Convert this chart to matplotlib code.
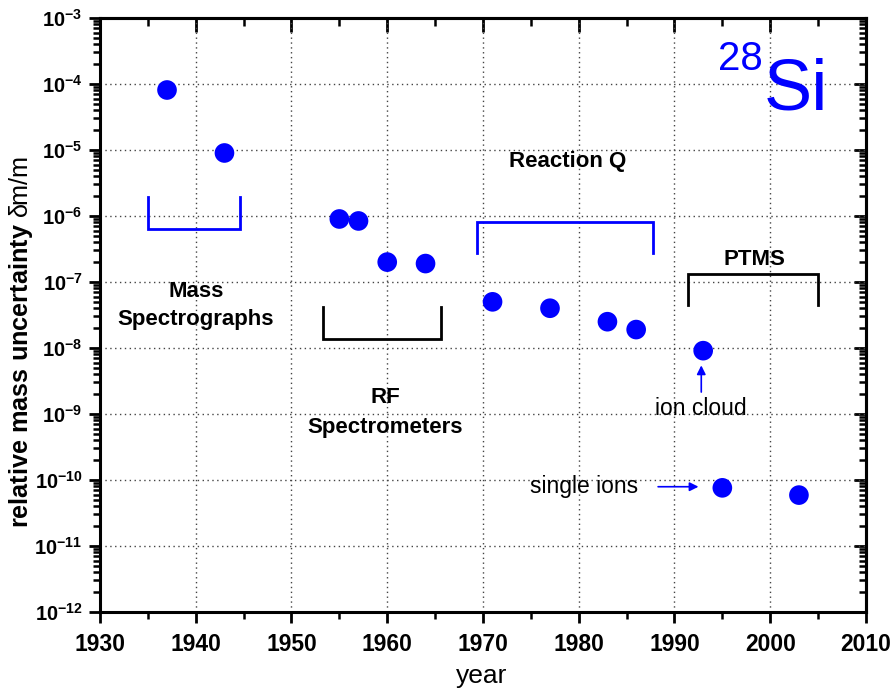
import numpy as np
import matplotlib
matplotlib.use("Agg")
import matplotlib.pyplot as plt

plt.rcParams["font.family"] = ["Liberation Sans", "DejaVu Sans"]
plt.rcParams["mathtext.fontset"] = "custom"
plt.rcParams["mathtext.rm"] = "Liberation Sans"
plt.rcParams["mathtext.bf"] = "Liberation Sans:bold"
plt.rcParams["mathtext.it"] = "Liberation Sans:italic"

# Measurements (year, relative mass uncertainty)
years = [1937, 1943, 1955, 1957, 1960, 1964, 1971, 1977, 1983, 1986, 1993, 1995, 2003]
uncert = [8.1e-5, 9.0e-6, 9.0e-7, 8.4e-7, 2.0e-7, 1.9e-7, 5.0e-8, 4.0e-8, 2.5e-8, 1.9e-8, 9.1e-9, 7.6e-11, 5.9e-11]

# Group brackets: (x_left, x_right, y_base, y_tip, colour)
mass_br = (1935.0, 1944.6, 6.4e-7, 1.95e-6, "blue")
rf_br = (1953.3, 1965.6, 1.37e-8, 4.2e-8, "black")
reac_br = (1969.4, 1987.8, 8.0e-7, 2.75e-7, "blue")
ptms_br = (1991.4, 2005.0, 1.31e-7, 4.5e-8, "black")

fig = plt.figure(figsize=(8.92, 6.88), dpi=100)
ax = fig.add_axes([0.1121, 0.1105, 0.8587, 0.8634])
ax.set_yscale("log")
ax.set_xlim(1930, 2010)
ax.set_ylim(1e-12, 1e-3)

ax.grid(True, which="major", color="#444444", ls=(0, (1, 2.5)), lw=1.0)
ax.set_axisbelow(True)

ax.scatter(years, uncert, s=200, color="blue", zorder=3, edgecolors="none")

for x0, x1, yb, yt, c in [mass_br, rf_br, reac_br, ptms_br]:
    ax.plot([x0, x0, x1, x1], [yt, yb, yb, yt], color=c, lw=2.0, solid_joinstyle="miter")

bold = dict(fontsize=16, fontweight="bold", ha="center", va="center")
ax.text(1940.0, 4.4e-8, "Mass\nSpectrographs", linespacing=1.45, **bold)
ax.text(1959.8, 1.05e-9, "RF\nSpectrometers", linespacing=1.55, **bold)
ax.text(1978.8, 6.8e-6, "Reaction Q", **bold)
ax.text(1998.4, 2.2e-7, "PTMS", **bold)

ax.text(1992.7, 1.2e-9, "ion cloud", fontsize=16.5, ha="center", va="center")
ax.text(1980.6, 8.0e-11, "single ions", fontsize=16.5, ha="center", va="center")
ax.annotate("", xy=(1992.8, 6.0e-9), xytext=(1992.8, 1.95e-9),
            arrowprops=dict(arrowstyle="-|>", color="blue", lw=1.2, mutation_scale=13))
ax.annotate("", xy=(1992.8, 7.9e-11), xytext=(1988.0, 7.9e-11),
            arrowprops=dict(arrowstyle="-|>", color="blue", lw=1.2, mutation_scale=13))

ax.text(1999.3, 4.1e-5, "Si", fontsize=52, color="blue", ha="left", va="baseline")
ax.text(1999.2, 4.6e-4, "28", fontsize=29, color="blue", ha="right", va="top")

ax.set_xticks(np.arange(1930, 2011, 10))
ax.set_xticks(np.arange(1935, 2010, 10), minor=True)
ax.set_xticklabels([str(v) for v in range(1930, 2011, 10)], fontweight="bold", fontsize=16.5)
yt = [10.0 ** e for e in range(-12, -2)]
ax.set_yticks(yt)
ax.set_yticklabels([r"$\mathbf{10^{%d}}$" % e for e in range(-12, -2)], fontsize=14.5)

for sp in ax.spines.values():
    sp.set_linewidth(2.2)
ax.tick_params(which="major", direction="out", length=8, width=2)
ax.tick_params(which="minor", direction="out", length=5, width=1.8)
ax.tick_params(axis="x", pad=7)
ax.tick_params(axis="y", pad=4.5)

sx = ax.secondary_xaxis("top")
sx.set_xticks(np.arange(1930, 2011, 10))
sx.set_xticks(np.arange(1935, 2010, 10), minor=True)
sx.tick_params(which="major", direction="in", length=10, width=2, labeltop=False)
sx.tick_params(which="minor", direction="in", length=6, width=1.8)
sx.set_xticklabels([])
sy = ax.secondary_yaxis("right")
sy.set_yticks(yt)
sy.tick_params(which="major", direction="in", length=9, width=2, labelright=False)
sy.tick_params(which="minor", direction="in", length=5, width=1.8)
sy.set_yticklabels([])
for s in (sx, sy):
    for sp in s.spines.values():
        sp.set_linewidth(2.2)

fig.text(0.540, 0.0174, "year", fontsize=19, ha="center", va="center")
fig.text(0.023, 0.503, r"$\mathbf{relative\ mass\ uncertainty}\ \mathrm{\delta m/m}$",
         fontsize=18.2, rotation=90, ha="center", va="center")

fig.savefig("out.png", dpi=100)
